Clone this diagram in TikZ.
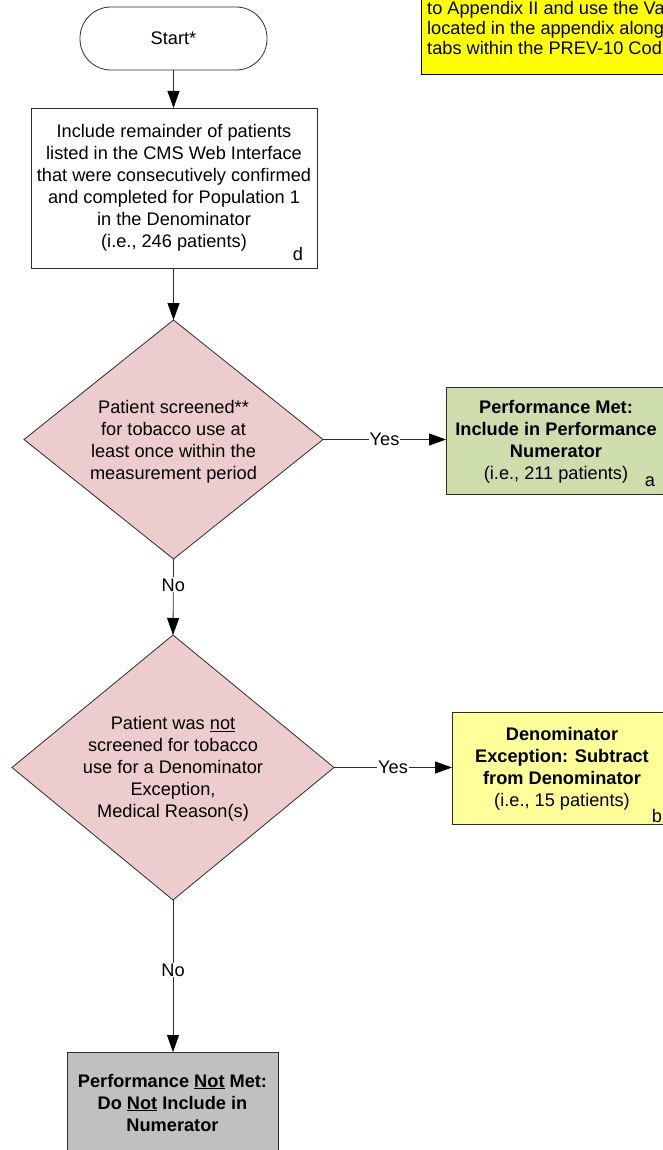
\documentclass[tikz,border=0pt]{standalone}
\usepackage{fontspec}
\setmainfont{Liberation Sans}
\usetikzlibrary{shapes.geometric,arrows.meta}
\definecolor{pinkd}{RGB}{236,204,204}
\definecolor{greenb}{RGB}{205,221,172}
\definecolor{yellowb}{RGB}{255,255,153}
\definecolor{grayb}{RGB}{192,192,192}
\definecolor{noteyellow}{RGB}{255,255,0}
\definecolor{edge}{RGB}{45,45,45}
\begin{document}
\begin{tikzpicture}[x=1pt,y=-1pt,
  shp/.style={draw=edge, line width=0.8pt, inner sep=0pt, outer sep=0pt},
  boxr/.style={shp, rectangle},
  dia/.style={shp, diamond, fill=pinkd},
  txt/.style={align=center, inner sep=0pt, font=\fontsize{18.2}{22}\selectfont},
  conn/.style={draw=edge, line width=0.8pt},
  arr/.style={conn, -{Triangle[length=17pt,width=12pt,fill=black,color=black]}},
  lbl/.style={fill=white, inner sep=1pt, font=\fontsize{18.2}{22}\selectfont}]
\useasboundingbox (0,0) rectangle (662,1150);
\fill[white] (0,0) rectangle (662,1150);

% note box (cut off at top and right)
\fill[black!45] (423.5,74) rectangle (700,75.5);
\node[boxr, draw=black, fill=noteyellow, minimum width=279pt, minimum height=120pt] (note) at (560.5,14) {};
\node[inner sep=0pt, align=left, anchor=west, font=\fontsize{18.2}{20}\selectfont] (notetxt) at (427,28)
  {to Appendix II and use the Va\\located in the appendix along\\tabs within the PREV-10 Cod};

% start
\node[shp, rectangle, rounded corners=31pt, minimum width=187pt, minimum height=63pt, txt] (start) at (173.5,38.5) {Start*};

% main box
\node[boxr, minimum width=286pt, minimum height=160pt, txt] (main) at (174,188)
  {Include remainder of patients\\listed in the CMS Web Interface\\that were consecutively confirmed\\and completed for Population 1\\in the Denominator\\(i.e., 246 patients)};
\node[txt] (dlab) at (298,254) {d};

% diamond 1
\node[dia, minimum width=299pt, minimum height=239pt] (d1) at (173.5,439.5) {};
\node[txt] (d1txt) at (173.5,441.5) {Patient screened**\\for tobacco use at\\least once within the\\measurement period};

% green box
\node[boxr, fill=greenb, minimum width=226pt, minimum height=107pt] (green) at (559,440.5) {};
\node[txt] (greentxt) at (556,441.5) {\textbf{Performance Met:}\\\textbf{Include in Performance}\\\textbf{Numerator}\\(i.e., 211 patients)};
\node[txt] (alab) at (650,482) {a};

% diamond 2
\node[dia, minimum width=322pt, minimum height=265pt] (d2) at (173,767.5) {};
\node[txt] (d2txt) at (173,769) {Patient was \underline{not}\\screened for tobacco\\use for a Denominator\\Exception,\\Medical Reason(s)};

% yellow box
\node[boxr, fill=yellowb, minimum width=220pt, minimum height=112pt] (yel) at (562,768) {};
\node[txt] (yeltxt) at (562,768.5) {\textbf{Denominator}\\\textbf{Exception: Subtract}\\\textbf{from Denominator}\\(i.e., 15 patients)};
\node[txt] (blab) at (657,816) {b};

% bottom box (cut off at bottom)
\node[boxr, fill=grayb, minimum width=211pt, minimum height=110pt] (bot) at (172.5,1107) {};
\node[txt] (bottxt) at (172.5,1102.5) {\textbf{Performance \underline{Not} Met:}\\\textbf{Do \underline{Not} Include in}\\\textbf{Numerator}};

% connectors
\draw[arr] (start.south) -- (start.south |- main.north);
\draw[arr] (d1.north |- main.south) -- (d1.north);
\draw[arr] (d1.east) -- node[lbl]{Yes} (green.west |- d1.east);
\draw[arr] (d1.south) -- node[lbl, pos=0.34]{No} (d2.north);
\draw[arr] (d2.east) -- node[lbl]{Yes} (yel.west |- d2.east);
\draw[arr] (d2.south) -- node[lbl, pos=0.46]{No} (d2.south |- bot.north);
\end{tikzpicture}
\end{document}
